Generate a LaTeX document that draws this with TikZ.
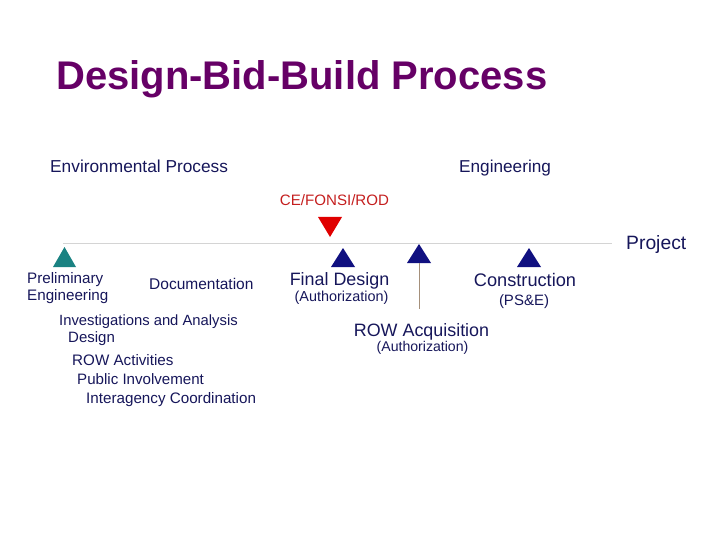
\documentclass[tikz,border=0pt]{standalone}
\usepackage{fontspec}
\setmainfont{Liberation Sans}
\definecolor{ttl}{HTML}{660066}
\definecolor{txt}{HTML}{16165A}
\definecolor{tri}{HTML}{101080}
\definecolor{teal}{HTML}{1A8282}
\definecolor{redd}{HTML}{E00000}
\definecolor{redt}{HTML}{C41E1E}
\begin{document}
\begin{tikzpicture}[x=1pt,y=-1pt,
  lbl/.style={inner sep=0pt, text=txt, anchor=base west},
  ctr/.style={inner sep=0pt, text=txt, anchor=base},
]
\useasboundingbox (0,0) rectangle (720,540);
% title
\node[inner sep=0pt, anchor=base west, text=ttl, font=\fontsize{40}{46}\selectfont\bfseries] (title) at (56,89.5) {Design-Bid-Build Process};
% headings
\node[lbl, font=\fontsize{17.3}{20}\selectfont] (env) at (50,172.5) {Environmental Process};
\node[lbl, font=\fontsize{17.2}{20}\selectfont] (eng) at (459,172.5) {Engineering};
\node[ctr, text=redt, font=\fontsize{15.1}{18}\selectfont] (ce) at (334.5,205.5) {CE/FONSI/ROD};
% timeline
\coordinate (l0) at (63,243);
\coordinate (l1) at (612,243);
\draw[line width=1pt, color=black!17] (l0) -- (l1);
\node[lbl, font=\fontsize{19.3}{22}\selectfont] (proj) at (626,249.5) {Project};
% triangles
\fill[redd] (318,217) -- (342,217) -- (330,237) -- cycle;
\fill[teal] (53,267) -- (76,267) -- (64.5,247) -- cycle;
\fill[tri] (331,267) -- (355,267) -- (343,248) -- cycle;
\fill[tri] (407,263) -- (431,263) -- (419,244) -- cycle;
\fill[tri] (517,267) -- (541,267) -- (529,248) -- cycle;
\coordinate (v0) at (419,263);
\coordinate (v1) at (419,309);
\draw[line width=0.8pt, color=black!45!brown!60] (v0) -- (v1);
% labels
\node[lbl, font=\fontsize{15.2}{18}\selectfont] (pre1) at (27,283.3) {Preliminary};
\node[lbl, font=\fontsize{15.2}{18}\selectfont] (pre2) at (27,300) {Engineering};
\node[lbl, font=\fontsize{15.5}{18}\selectfont] (doc) at (149,289) {Documentation};
\node[ctr, font=\fontsize{17.9}{20}\selectfont] (fd) at (339.5,285.5) {Final Design};
\node[ctr, font=\fontsize{14.4}{16}\selectfont] (fda) at (341.5,301) {(Authorization)};
\node[ctr, font=\fontsize{18.2}{20}\selectfont] (con) at (525,286.5) {Construction};
\node[ctr, font=\fontsize{15}{18}\selectfont] (cona) at (524,305) {(PS\&E)};
\node[ctr, font=\fontsize{17.9}{20}\selectfont] (row) at (421.5,336) {ROW Acquisition};
\node[ctr, font=\fontsize{14.1}{16}\selectfont] (rowa) at (422.5,351) {(Authorization)};
% list
\node[lbl, font=\fontsize{14.8}{18}\selectfont] (i1) at (59,325.5) {Investigations and Analysis};
\node[lbl, font=\fontsize{15}{18}\selectfont] (i2) at (68,342.5) {Design};
\node[lbl, font=\fontsize{15.2}{18}\selectfont] (i3) at (72,365) {ROW Activities};
\node[lbl, font=\fontsize{15.1}{18}\selectfont] (i4) at (77,384.3) {Public Involvement};
\node[lbl, font=\fontsize{15.2}{18}\selectfont] (i5) at (86,403.3) {Interagency Coordination};
\end{tikzpicture}
\end{document}
